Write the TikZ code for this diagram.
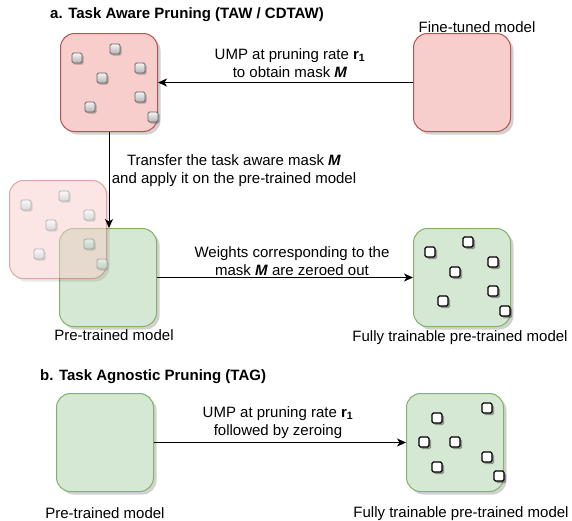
\documentclass[tikz,border=0pt]{standalone}
\usepackage{fontspec}
\setmainfont{Liberation Sans}
\usetikzlibrary{arrows.meta,shadows,calc}
\definecolor{redfill}{HTML}{F8CECC}
\definecolor{redline}{HTML}{B85450}
\definecolor{greenfill}{HTML}{D5E8D4}
\definecolor{greenline}{HTML}{82B366}
\definecolor{sqtop}{HTML}{F5F5F5}
\definecolor{sqbot}{HTML}{B3B3B3}
\definecolor{sqline}{HTML}{666666}
\begin{document}
\begin{tikzpicture}[x=1pt,y=-1pt,
  model/.style={line width=1pt, rounded corners=14pt, minimum width=97pt, minimum height=98pt,
    inner sep=0pt, anchor=north west,
    drop shadow={shadow xshift=3pt, shadow yshift=-3pt, opacity=0.18, fill=black}},
  redm/.style={model, fill=redfill, draw=redline},
  greenm/.style={model, fill=greenfill, draw=greenline},
  gsq/.style={minimum size=10pt, inner sep=0pt, rounded corners=1.5pt, line width=0.8pt,
    draw=sqline, top color=sqtop, bottom color=sqbot,
    drop shadow={shadow xshift=1.5pt, shadow yshift=-1.5pt, opacity=0.25, fill=black}},
  wsq/.style={minimum size=10pt, inner sep=0pt, rounded corners=1.5pt, line width=1.2pt,
    draw=black, fill=white,
    drop shadow={shadow xshift=2pt, shadow yshift=-2pt, opacity=0.35, fill=black}},
  lbl/.style={font=\fontsize{15}{18}\selectfont, align=center, inner sep=0pt},
  ttl/.style={font=\fontsize{15}{18}\selectfont\bfseries, inner sep=0pt, anchor=base west},
  arr/.style={-{Stealth[length=9pt,width=8pt,inset=2.5pt]}, line width=1pt}
]
\useasboundingbox (0,0) rectangle (572,520);
\fill[white] (0,0) rectangle (572,520);

% ---------- a. Task Aware Pruning ----------
\node[ttl] (ta) at (50,18) {a. Task Aware Pruning (TAW / CDTAW)};

\node[redm] (pm) at (60,33) {};
\foreach \dx/\dy [count=\i] in {17/25,55/16,80/35,42/45,80/64,30/74,93/84}
  \node[gsq] (pm-s\i) at ($(pm.north west)+(\dx,\dy)$) {};

\node[redm] (ft) at (413,33) {};
\node[lbl, anchor=base] (ftl) at (477,32) {Fine-tuned model};

\node[greenm] (pt) at (59,228) {};
\node[lbl, anchor=base] (ptl) at (114,340) {Pre-trained model};

\begin{scope}[transparency group, opacity=0.5]
  \node[redm] (fd) at (9,180) {};
  \foreach \dx/\dy [count=\i] in {17/25,55/16,80/35,42/45,80/64,30/74,93/84}
    \node[gsq] (fd-s\i) at ($(fd.north west)+(\dx,\dy)$) {};
\end{scope}

\node[greenm] (ftr) at (413,228) {};
\foreach \dx/\dy [count=\i] in {17/24,55/14,80/34,42/44,80/63,30/73,92/83}
  \node[wsq] (ftr-s\i) at ($(ftr.north west)+(\dx,\dy)$) {};
\node[lbl, anchor=base] (ftrl) at (460,341) {Fully trainable pre-trained model};

\draw[arr] (ft.west) -- (pm.east);
\node[lbl, anchor=base] (l1) at (290,77.5) {UMP at pruning rate \textbf{r\textsubscript{1}}\\to obtain mask \textbf{\textit{M}}};

\draw[arr] (pm.south) -- (pm.south |- pt.north);
\node[lbl, anchor=base] (l2) at (234,183) {Transfer the task aware mask \textbf{\textit{M}}\\and apply it on the pre-trained model};

\draw[arr] (pt.east) -- (ftr.west);
\node[lbl, anchor=base] (l3) at (292,275) {Weights corresponding to the\\mask \textbf{\textit{M}} are zeroed out};

% ---------- b. Task Agnostic Pruning ----------
\node[ttl] (tb) at (40,380) {b. Task Agnostic Pruning (TAG)};

\node[greenm] (ptb) at (56,393) {};
\node[lbl, anchor=base] (ptbl) at (105,518) {Pre-trained model};

\node[greenm] (ftrb) at (406,393) {};
\foreach \dx/\dy [count=\i] in {31/25,81/15,18/49,49/49,81/64,31/74,93/83}
  \node[wsq] (ftrb-s\i) at ($(ftrb.north west)+(\dx,\dy)$) {};
\node[lbl, anchor=base] (ftrbl) at (461,517) {Fully trainable pre-trained model};

\draw[arr] (ptb.east) -- (ftrb.west);
\node[lbl, anchor=base] (l4) at (278,435) {UMP at pruning rate \textbf{r\textsubscript{1}}\\followed by zeroing};
\end{tikzpicture}
\end{document}
